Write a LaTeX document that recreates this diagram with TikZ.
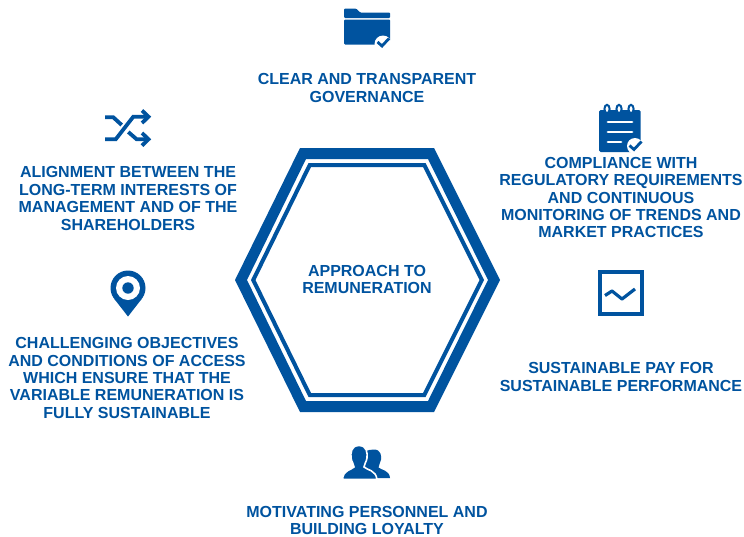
\documentclass[tikz,border=0pt]{standalone}
\usepackage{fontspec}
\setmainfont{Liberation Sans}
\definecolor{brandblue}{HTML}{00539F}
\tikzset{
  caption/.style={align=center, text=brandblue, inner sep=0pt, font=\bfseries\fontsize{16pt}{17.4pt}\selectfont},
  iconline/.style={draw=brandblue, line width=3.8pt},
  whiteline/.style={draw=white, line width=2.8pt, line cap=round},
  tick/.style={draw=brandblue, line width=2.8pt, line join=miter}
}
\begin{document}
\begin{tikzpicture}[x=1pt, y=-1pt]
\useasboundingbox (0,0) rectangle (744,536);
% hexagon
\fill [brandblue, even odd rule] (300,148) -- (434,148) -- (500,280) -- (434,412) -- (300,412) -- (235,280) -- cycle
  (306,159) -- (428,159) -- (488,280) -- (428,401) -- (306,401) -- (247,280) -- cycle;
\fill [brandblue, even odd rule] (308.5,163) -- (425.5,163) -- (484,280) -- (425.5,397) -- (308.5,397) -- (251,280) -- cycle
  (311,167) -- (423,167) -- (479.5,280) -- (423,393) -- (311,393) -- (255.5,280) -- cycle;
% texts
\node (c) [caption] at (367,279.5) {APPROACH TO\\REMUNERATION};
\node (1) [caption] at (367,88) {CLEAR AND TRANSPARENT\\GOVERNANCE};
\node (2) [caption] at (621,197.5) {COMPLIANCE WITH\\REGULATORY REQUIREMENTS\\AND CONTINUOUS\\MONITORING OF TRENDS AND\\MARKET PRACTICES};
\node (3) [caption] at (621,377) {SUSTAINABLE PAY FOR\\SUSTAINABLE PERFORMANCE};
\node (4) [caption] at (367,520.5) {MOTIVATING PERSONNEL AND\\BUILDING LOYALTY};
\node (5) [caption] at (127,378) {CHALLENGING OBJECTIVES\\AND CONDITIONS OF ACCESS\\WHICH ENSURE THAT THE\\VARIABLE REMUNERATION IS\\FULLY SUSTAINABLE};
\node (6) [caption] at (128,198.5) {ALIGNMENT BETWEEN THE\\LONG-TERM INTERESTS OF\\MANAGEMENT AND OF THE\\SHAREHOLDERS};
% folder
\fill [brandblue, rounded corners=1pt] (344,18) -- (344,8.5) -- (356,8.5) -- (360,12.5) -- (390,12.5) -- (390,18) -- cycle;
\fill [brandblue, rounded corners=1pt] (344,19.5) -- (390,19.5) -- (390,44.5) -- (344,44.5) -- cycle;
\fill [white] (383,44) circle (8.5);
\draw [tick] (377.5,42) -- (382,46) -- (389,38.5);
% checklist
\fill [brandblue, rounded corners=1.5pt] (599,110) rectangle (640.5,152);
\foreach \ringx in {607,619,631}
  \draw [brandblue, fill=white, line width=2pt] (\ringx,109) ellipse (2.6 and 4.2);
\foreach \liney/\lineend in {122/632,132/632,142/621}
  \draw [whiteline] (608,\liney) -- (\lineend,\liney);
\fill [white] (635,146) circle (8);
\draw [tick] (629.5,145.5) -- (634,149.5) -- (641.5,141.5);
% chart
\draw [brandblue, line width=3.8pt] (599.9,271.9) rectangle (641.9,313.9);
\draw [iconline, line width=3.2pt, line join=round] (605,295.5) -- (612,291) -- (622,299) -- (635,289);
% people
\fill [brandblue] (374,449.5) .. controls (381,449.5) and (381.5,456) .. (381,459.5) .. controls (380.5,463) and (378.5,465) .. (378.5,467.5) .. controls (381,470) and (389.5,470) .. (390,478) -- (360,478) -- (360,455) .. controls (362,452) and (368,449.5) .. (374,449.5) -- cycle;
\fill [brandblue, draw=white, line width=1.6pt] (359,445.5) .. controls (367,445.5) and (367.5,453) .. (367,458) .. controls (366.5,462) and (364,464) .. (364,467) .. controls (367,470) and (376,470) .. (377,479.5) -- (342.5,479.5) .. controls (343,470) and (351,470) .. (354,467) .. controls (354,464) and (351.5,462) .. (351,458) .. controls (350.5,453) and (351,445.5) .. (359,445.5) -- cycle;
% pin
\fill [brandblue] (128,288) circle (17.5);
\fill [brandblue] (128,316.5) -- (114.3,298.9) -- (141.7,298.9) -- cycle;
\fill [white] (128,288) circle (12);
\fill [brandblue] (128,288) circle (5.7);
% shuffle
\draw [iconline] (105,117.3) -- (113.3,117.3) -- (121.7,125);
\draw [iconline] (105,139.3) -- (115.7,139.3) -- (133.3,116.7) -- (147,116.7);
\draw [iconline] (128.3,132) -- (136.7,139.3) -- (147,139.3);
\draw [iconline] (142,110.5) -- (148.5,116.7) -- (142,123);
\draw [iconline] (142,133) -- (148.5,139.3) -- (142,145.6);
\end{tikzpicture}
\end{document}
